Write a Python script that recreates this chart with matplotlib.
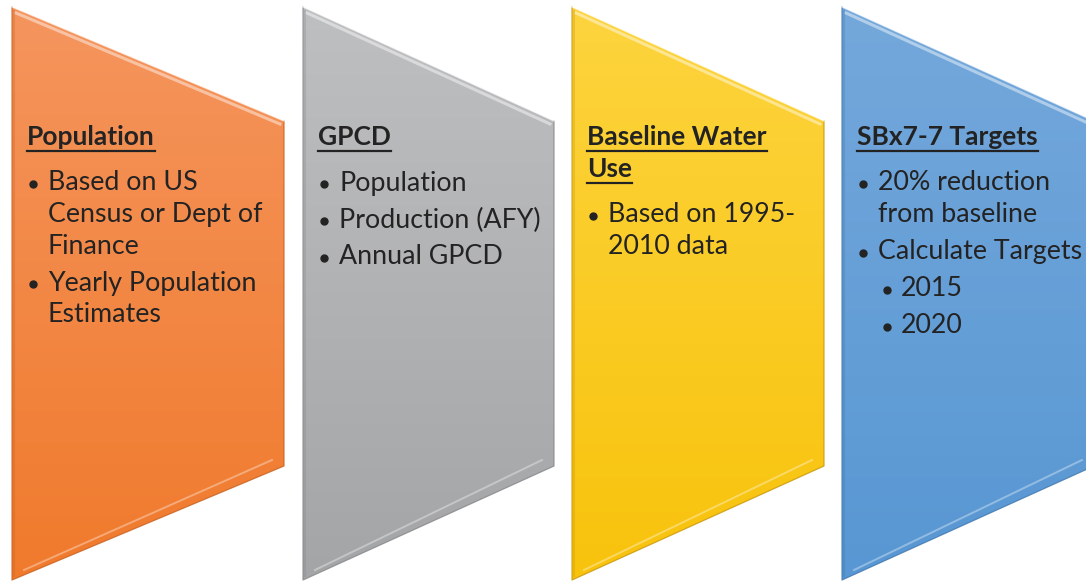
import numpy as np
import matplotlib.pyplot as plt
from matplotlib.patches import Polygon
from matplotlib.colors import to_rgb

plt.rcParams['font.family'] = ['Lato', 'DejaVu Sans']

# Panel contents
titles = [["Population"], ["GPCD"], ["Baseline Water", "Use"], ["SBx7-7 Targets"]]
bullets = [
    [(0, ["Based on US", "Census or Dept of", "Finance"]),
     (0, ["Yearly Population", "Estimates"])],
    [(0, ["Population"]), (0, ["Production (AFY)"]), (0, ["Annual GPCD"])],
    [(0, ["Based on 1995-", "2010 data"])],
    [(0, ["20% reduction", "from baseline"]), (0, ["Calculate Targets"]),
     (1, ["2015"]), (1, ["2020"])],
]
top_colors = ["#F5955E", "#BEBFC1", "#FDD43E", "#74A8DB"]
bottom_colors = ["#F07A2C", "#A4A5A7", "#F8C30C", "#5897D3"]
edge_colors = ["#C8611F", "#86878A", "#C9970A", "#3F77AE"]
panel_left = [12, 303, 572, 842]
panel_right = [284, 554, 824, 1094]

W, H = 1086, 583
fig = plt.figure(figsize=(W / 100, H / 100), dpi=100)
ax = fig.add_axes([0, 0, 1, 1])
ax.set_xlim(0, W)
ax.set_ylim(H, 0)
ax.axis('off')

y_top, y_bot = 7, 580
notch = 114  # vertical drop of the slanted edges
text_color = "#232323"
fs_title = 19
fs_body = 19.3

for i in range(4):
    x0, x1 = panel_left[i], panel_right[i]
    verts = [(x0, y_top), (x1, y_top + notch), (x1, y_bot - notch), (x0, y_bot)]

    c0, c1 = np.array(to_rgb(top_colors[i])), np.array(to_rgb(bottom_colors[i]))
    t = np.linspace(0, 1, 256)[:, None, None]
    grad = c0 * (1 - t) + c1 * t
    im = ax.imshow(grad, extent=(x0, x1, y_bot, y_top), origin='upper', aspect='auto', zorder=1)
    im.set_clip_path(Polygon(verts, closed=True, transform=ax.transData))

    # outline + bevel
    ax.plot([x0, x0, x1, x1], [y_top, y_bot, y_bot - notch, y_top + notch],
            color=edge_colors[i], lw=0.9, alpha=0.8, zorder=3)
    ax.plot([x0, x1], [y_top, y_top + notch], color='white', alpha=0.6, lw=1.0, zorder=3)
    ax.plot([x0 + 4, x1 - 4], [y_top + 6, y_top + notch + 3], color='white', alpha=0.45, lw=2.2, zorder=2)
    ax.plot([x0 + 12, x1 - 12], [y_bot - 10, y_bot - notch - 6], color='white', alpha=0.35, lw=1.4, zorder=2)
    ax.plot([x0 + 2, x0 + 2], [y_top + 4, y_bot - 4], color=edge_colors[i], alpha=0.3, lw=1.5, zorder=2)

    # title
    y = 137
    for k, line in enumerate(titles[i]):
        txt = ax.text(x0 + 15, y, line, fontsize=fs_title, fontweight='bold', color=text_color,
                      va='center', ha='left', zorder=4)
        fig.canvas.draw()
        bb = txt.get_window_extent().transformed(ax.transData.inverted())
        ax.plot([bb.x0, bb.x1], [y + 13.5, y + 13.5], color=text_color, lw=1.6, zorder=4)
        if k < len(titles[i]) - 1:
            y += 32

    # bullets
    y += 46
    for j, (lvl, lines) in enumerate(bullets[i]):
        if j > 0:
            y += 37
        dot_x = x0 + (21 if lvl == 0 else 45)
        text_x = x0 + (36 if lvl == 0 else 59)
        ax.plot(dot_x, y + 1, 'o', ms=5, color=text_color, zorder=4)
        for k, line in enumerate(lines):
            if k > 0:
                y += 31.5
            ax.text(text_x, y, line, fontsize=fs_body, color=text_color, va='center', ha='left', zorder=4)

fig.savefig("out.png", dpi=100, facecolor='white')
